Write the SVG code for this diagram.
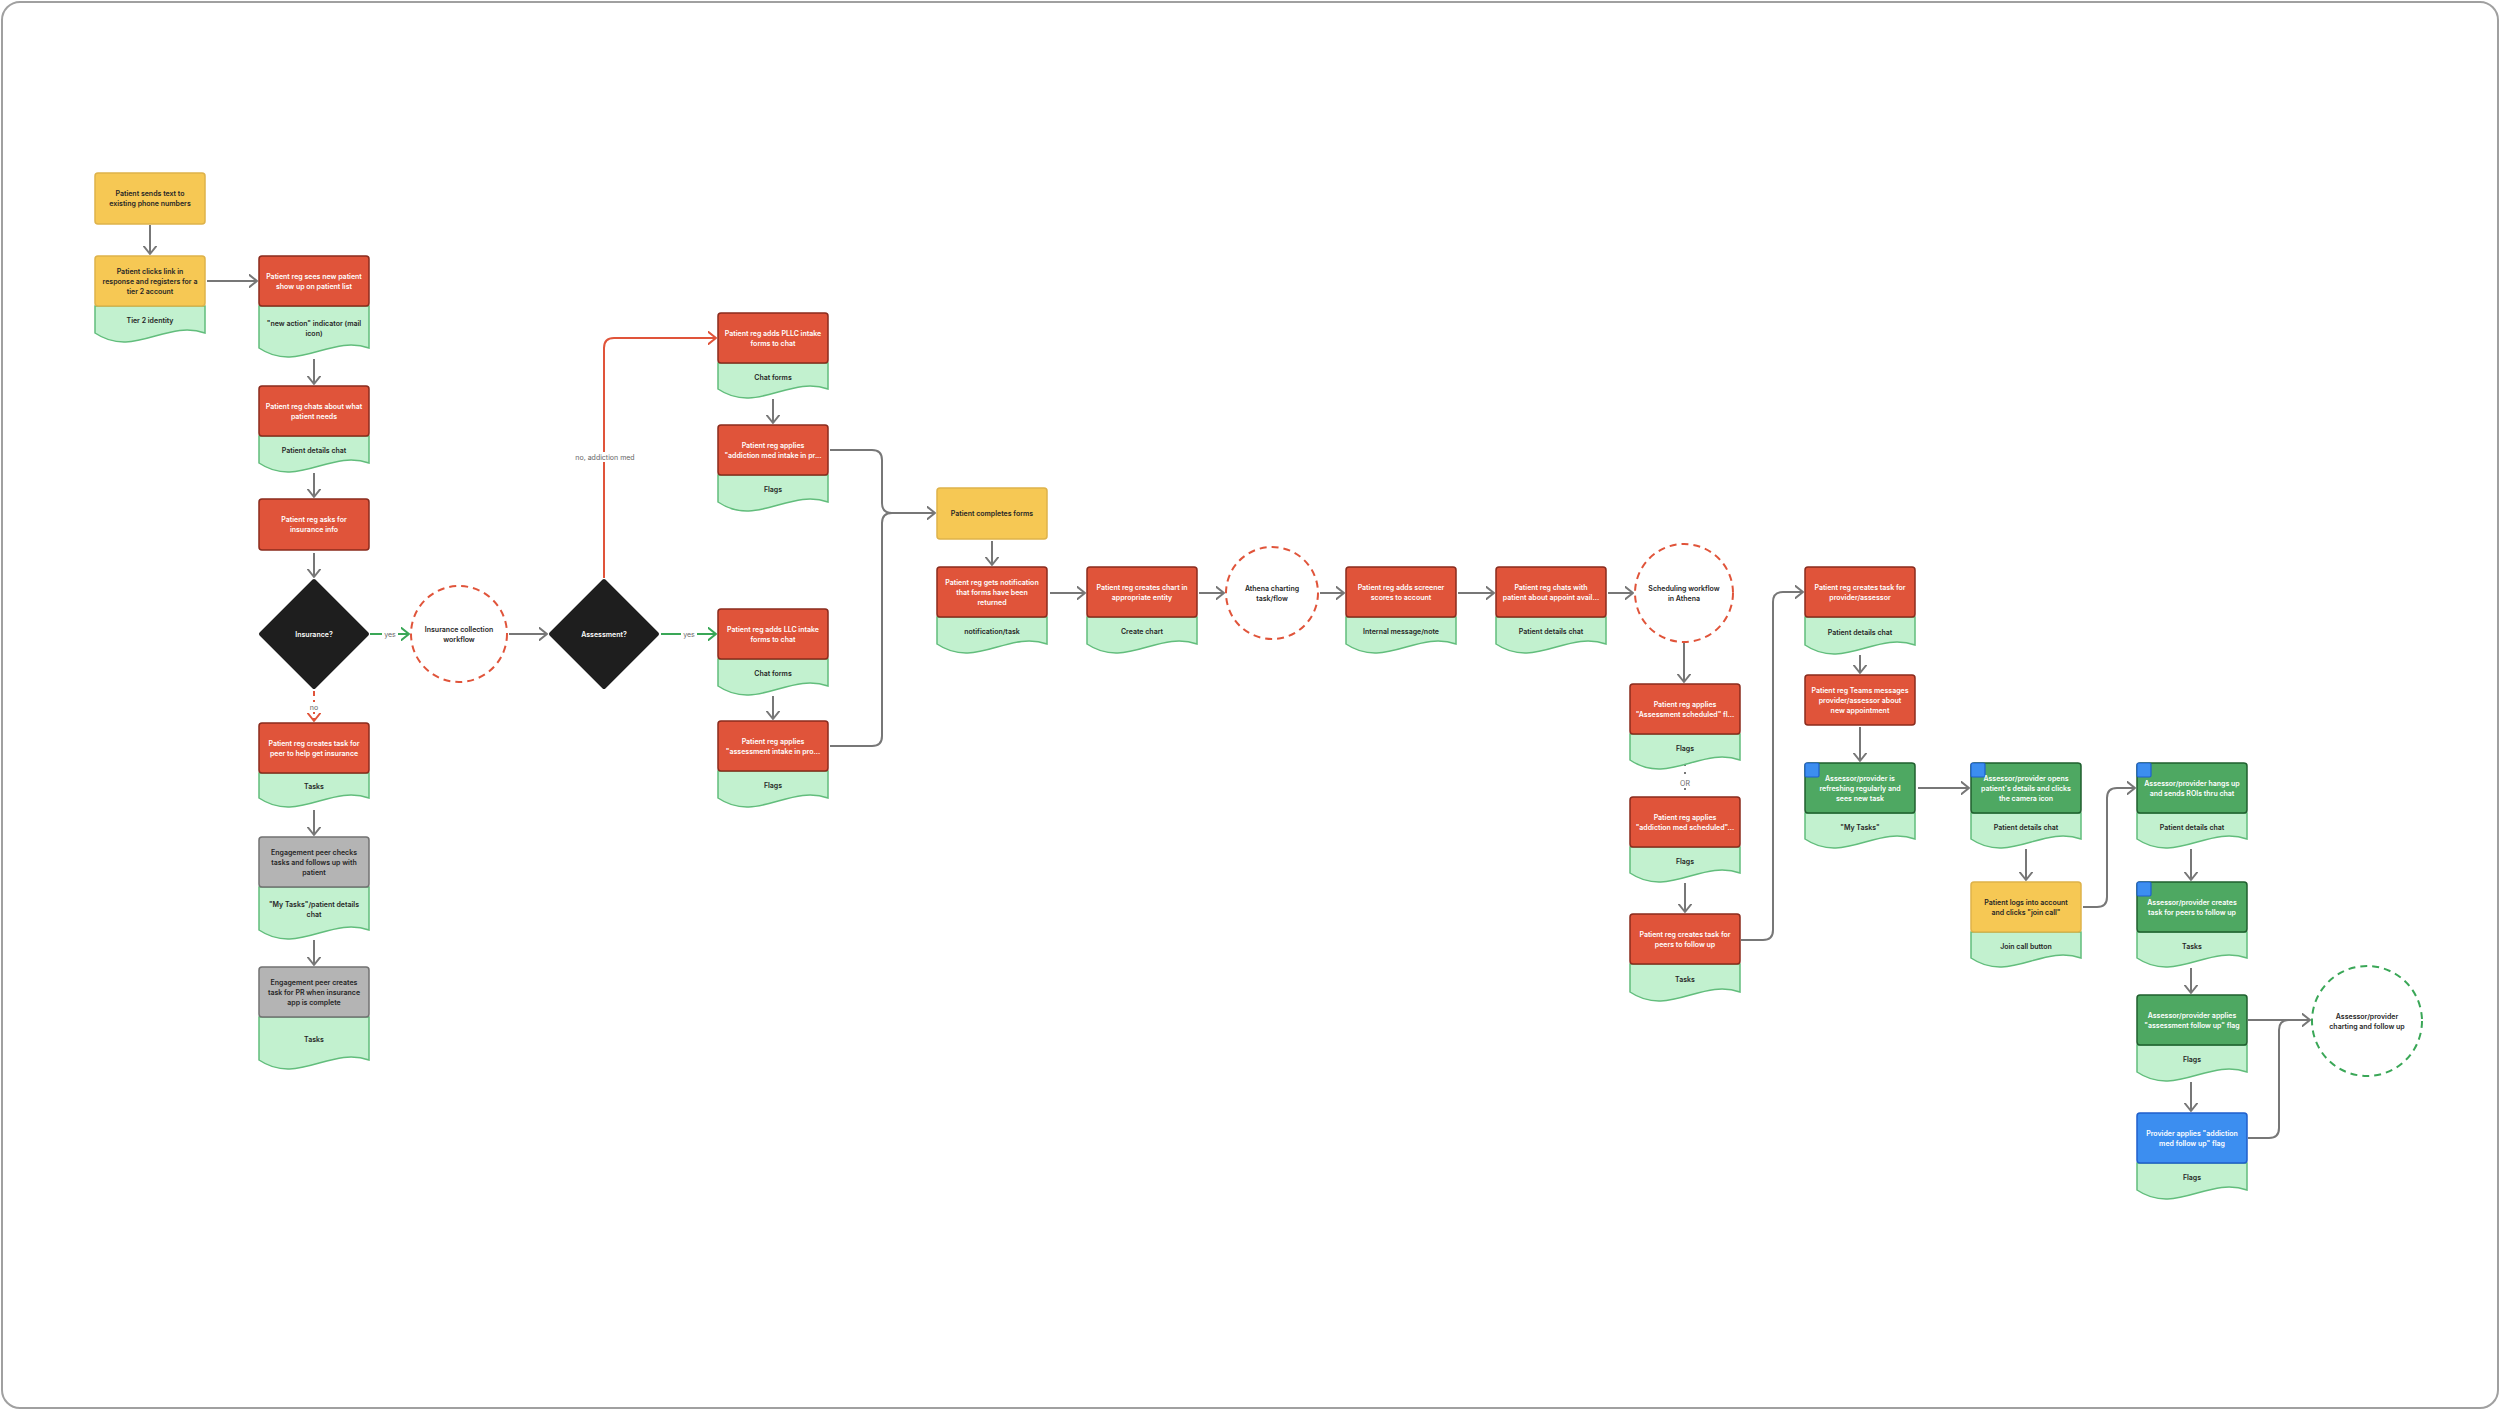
<svg xmlns="http://www.w3.org/2000/svg" width="2500" height="1410" viewBox="0 0 2500 1410">
<defs>
<style>
.red{fill:#e0543a;stroke:#8a2b1d;stroke-width:1.5}
.doc{fill:#c2f1cf;stroke:#62bd7c;stroke-width:1.5}
.yel{fill:#f6c854;stroke:#deb24a;stroke-width:1.5}
.gray{fill:#b4b4b4;stroke:#727272;stroke-width:1.5}
.grn{fill:#4ea862;stroke:#1f5f2e;stroke-width:1.5}
.blu{fill:#3c8ef0;stroke:#1f5fcb;stroke-width:1.5}
.sq{fill:#3c8ef0;stroke:#1f5fcb;stroke-width:1.2}
.dia{fill:#1e1e1e;stroke:#1e1e1e;stroke-width:4;stroke-linejoin:round}
.cr{fill:#fff;stroke:#e0543a;stroke-width:2;stroke-dasharray:7 5}
.cg{fill:#fff;stroke:#3aa757;stroke-width:2;stroke-dasharray:7 5}
text{font-family:Inter,"Liberation Sans",sans-serif;font-size:7px;font-weight:600;text-anchor:middle}
.tw{fill:#ffffff}
.td{fill:#262626}
.lbl{fill:#666666;font-weight:400}
.c{fill:none;stroke:#777777;stroke-width:2}
.cgn{fill:none;stroke:#3aa757;stroke-width:2}
.crd{fill:none;stroke:#e0543a;stroke-width:2}
</style>
<marker id="ag" viewBox="0 0 10 14" refX="8.5" refY="7" markerWidth="10" markerHeight="14" markerUnits="userSpaceOnUse" orient="auto"><path d="M1,1 L8.5,7 L1,13" fill="none" stroke="#777777" stroke-width="2" stroke-linecap="round" stroke-linejoin="round"/></marker>
<marker id="agn" viewBox="0 0 10 14" refX="8.5" refY="7" markerWidth="10" markerHeight="14" markerUnits="userSpaceOnUse" orient="auto"><path d="M1,1 L8.5,7 L1,13" fill="none" stroke="#3aa757" stroke-width="2" stroke-linecap="round" stroke-linejoin="round"/></marker>
<marker id="ard" viewBox="0 0 10 14" refX="8.5" refY="7" markerWidth="10" markerHeight="14" markerUnits="userSpaceOnUse" orient="auto"><path d="M1,1 L8.5,7 L1,13" fill="none" stroke="#e0543a" stroke-width="2" stroke-linecap="round" stroke-linejoin="round"/></marker>
</defs>
<rect x="2" y="2" width="2496" height="1406" rx="18" fill="#ffffff" stroke="#a0a0a0" stroke-width="2"/>

<g id="connectors">
<path class="c" d="M150,225 V254" marker-end="url(#ag)"/>
<path class="c" d="M207,281 H257" marker-end="url(#ag)"/>
<path class="c" d="M314,359 V384" marker-end="url(#ag)"/>
<path class="c" d="M314,473 V497" marker-end="url(#ag)"/>
<path class="c" d="M314,553 V577" marker-end="url(#ag)"/>
<path class="cgn" d="M370,634 H409" marker-end="url(#agn)"/>
<rect x="382" y="629" width="16" height="10" fill="#fff"/>
<text class="lbl" x="390" y="636.5">yes</text>
<path class="crd" d="M314,691 V721" stroke-dasharray="5 4" marker-end="url(#ard)"/>
<rect x="307" y="702" width="14" height="10" fill="#fff"/>
<text class="lbl" x="314" y="709.5">no</text>
<path class="c" d="M509,634 H547" marker-end="url(#ag)"/>
<path class="crd" d="M604,578 V348 Q604,338 614,338 H716" marker-end="url(#ard)"/>
<rect x="574" y="452" width="62" height="10" fill="#fff"/>
<text class="lbl" x="605" y="459.5">no, addiction med</text>
<path class="cgn" d="M661,634 H716" marker-end="url(#agn)"/>
<rect x="681" y="629" width="16" height="10" fill="#fff"/>
<text class="lbl" x="689" y="636.5">yes</text>
<path class="c" d="M773,399 V423" marker-end="url(#ag)"/>
<path class="c" d="M773,696 V719" marker-end="url(#ag)"/>
<path class="c" d="M314,810 V835" marker-end="url(#ag)"/>
<path class="c" d="M314,940 V965" marker-end="url(#ag)"/>
<path class="c" d="M830,450 H872 Q882,450 882,460 V503 Q882,513 892,513 H935" marker-end="url(#ag)"/>
<path class="c" d="M830,746 H872 Q882,746 882,736 V523 Q882,513 892,513"/>
<path class="c" d="M992,541 V565" marker-end="url(#ag)"/>
<path class="c" d="M1050,593 H1085" marker-end="url(#ag)"/>
<path class="c" d="M1199,593 H1224" marker-end="url(#ag)"/>
<path class="c" d="M1320,593 H1344" marker-end="url(#ag)"/>
<path class="c" d="M1458,593 H1494" marker-end="url(#ag)"/>
<path class="c" d="M1608,593 H1633" marker-end="url(#ag)"/>
<path class="c" d="M1684,643 V682" marker-end="url(#ag)"/>
<path class="c" d="M1685,764 V796" stroke-dasharray="2 6" stroke-linecap="butt"/>
<rect x="1677" y="777" width="16" height="11" fill="#fff"/>
<text class="lbl" x="1685" y="785.5">OR</text>
<path class="c" d="M1685,883 V912" marker-end="url(#ag)"/>
<path class="c" d="M1741,940 H1763 Q1773,940 1773,930 V602 Q1773,592 1783,592 H1803" marker-end="url(#ag)"/>
<path class="c" d="M1860,655 V673" marker-end="url(#ag)"/>
<path class="c" d="M1860,727 V761" marker-end="url(#ag)"/>
<path class="c" d="M1918,788 H1969" marker-end="url(#ag)"/>
<path class="c" d="M2026,849 V880" marker-end="url(#ag)"/>
<path class="c" d="M2083,907 H2097 Q2107,907 2107,897 V798 Q2107,788 2117,788 H2135" marker-end="url(#ag)"/>
<path class="c" d="M2191,849 V880" marker-end="url(#ag)"/>
<path class="c" d="M2191,968 V993" marker-end="url(#ag)"/>
<path class="c" d="M2191,1082 V1111" marker-end="url(#ag)"/>
<path class="c" d="M2248,1020 H2310" marker-end="url(#ag)"/>
<path class="c" d="M2248,1138 H2269 Q2279,1138 2279,1128 V1030 Q2279,1020 2289,1020"/>
</g>

<g id="n-sends">
<rect class="yel" x="95" y="173" width="110" height="51" rx="3"/>
<text class="td" x="150" y="196">Patient sends text to</text>
<text class="td" x="150" y="206">existing phone numbers</text>
</g>
<g id="n-clicks">
<path class="doc" d="M95,306 H205 V333 C166.5,319 133.5,359 95,333 Z"/>
<rect class="yel" x="95" y="256" width="110" height="50" rx="3"/>
<text class="td" x="150" y="273.5">Patient clicks link in</text>
<text class="td" x="150" y="283.5">response and registers for a</text>
<text class="td" x="150" y="293.5">tier 2 account</text>
<text class="td" x="150" y="323">Tier 2 identity</text>
</g>
<g id="n-sees">
<path class="doc" d="M259,306 H369 V348 C330.5,334 297.5,374 259,348 Z"/>
<rect class="red" x="259" y="256" width="110" height="50" rx="3"/>
<text class="tw" x="314" y="278.5">Patient reg sees new patient</text>
<text class="tw" x="314" y="288.5">show up on patient list</text>
<text class="td" x="314" y="325.5">"new action" indicator (mail</text>
<text class="td" x="314" y="335.5">icon)</text>
</g>
<g id="n-chats">
<path class="doc" d="M259,436 H369 V463 C330.5,449 297.5,489 259,463 Z"/>
<rect class="red" x="259" y="386" width="110" height="50" rx="3"/>
<text class="tw" x="314" y="408.5">Patient reg chats about what</text>
<text class="tw" x="314" y="418.5">patient needs</text>
<text class="td" x="314" y="453">Patient details chat</text>
</g>
<g id="n-asks">
<rect class="red" x="259" y="499" width="110" height="51" rx="3"/>
<text class="tw" x="314" y="522">Patient reg asks for</text>
<text class="tw" x="314" y="532">insurance info</text>
</g>
<g id="d-insurance">
<path class="dia" d="M314,581 L367,634 L314,687 L261,634 Z"/>
<text class="tw" x="314" y="636.5">Insurance?</text>
</g>
<g id="c-insurance">
<circle class="cr" cx="459" cy="634" r="48"/>
<text class="td" x="459" y="631.5">Insurance collection</text>
<text class="td" x="459" y="641.5">workflow</text>
</g>
<g id="d-assessment">
<path class="dia" d="M604,581 L657,634 L604,687 L551,634 Z"/>
<text class="tw" x="604" y="636.5">Assessment?</text>
</g>
<g id="n-peer-task">
<path class="doc" d="M259,773 H369 V798 C330.5,784 297.5,824 259,798 Z"/>
<rect class="red" x="259" y="723" width="110" height="50" rx="3"/>
<text class="tw" x="314" y="745.5">Patient reg creates task for</text>
<text class="tw" x="314" y="755.5">peer to help get insurance</text>
<text class="td" x="314" y="789">Tasks</text>
</g>
<g id="n-eng-checks">
<path class="doc" d="M259,887 H369 V930 C330.5,916 297.5,956 259,930 Z"/>
<rect class="gray" x="259" y="837" width="110" height="50" rx="3"/>
<text class="td" x="314" y="854.5">Engagement peer checks</text>
<text class="td" x="314" y="864.5">tasks and follows up with</text>
<text class="td" x="314" y="874.5">patient</text>
<text class="td" x="314" y="907">"My Tasks"/patient details</text>
<text class="td" x="314" y="917">chat</text>
</g>
<g id="n-eng-creates">
<path class="doc" d="M259,1017 H369 V1060 C330.5,1046 297.5,1086 259,1060 Z"/>
<rect class="gray" x="259" y="967" width="110" height="50" rx="3"/>
<text class="td" x="314" y="984.5">Engagement peer creates</text>
<text class="td" x="314" y="994.5">task for PR when insurance</text>
<text class="td" x="314" y="1004.5">app is complete</text>
<text class="td" x="314" y="1042">Tasks</text>
</g>
<g id="n-pllc">
<path class="doc" d="M718,363 H828 V389 C789.5,375 756.5,415 718,389 Z"/>
<rect class="red" x="718" y="313" width="110" height="50" rx="3"/>
<text class="tw" x="773" y="335.5">Patient reg adds PLLC intake</text>
<text class="tw" x="773" y="345.5">forms to chat</text>
<text class="td" x="773" y="379.5">Chat forms</text>
</g>
<g id="n-addmed-intake">
<path class="doc" d="M718,475 H828 V502 C789.5,488 756.5,528 718,502 Z"/>
<rect class="red" x="718" y="425" width="110" height="50" rx="3"/>
<text class="tw" x="773" y="447.5">Patient reg applies</text>
<text class="tw" x="773" y="457.5">"addiction med  intake in pr...</text>
<text class="td" x="773" y="492">Flags</text>
</g>
<g id="n-llc">
<path class="doc" d="M718,659 H828 V686 C789.5,672 756.5,712 718,686 Z"/>
<rect class="red" x="718" y="609" width="110" height="50" rx="3"/>
<text class="tw" x="773" y="631.5">Patient reg adds LLC intake</text>
<text class="tw" x="773" y="641.5">forms to chat</text>
<text class="td" x="773" y="676">Chat forms</text>
</g>
<g id="n-assess-intake">
<path class="doc" d="M718,771 H828 V798 C789.5,784 756.5,824 718,798 Z"/>
<rect class="red" x="718" y="721" width="110" height="50" rx="3"/>
<text class="tw" x="773" y="743.5">Patient reg applies</text>
<text class="tw" x="773" y="753.5">"assessment intake in pro...</text>
<text class="td" x="773" y="788">Flags</text>
</g>
<g id="n-completes">
<rect class="yel" x="937" y="488" width="110" height="51" rx="3"/>
<text class="td" x="992" y="516">Patient completes forms</text>
</g>
<g id="n-notification">
<path class="doc" d="M937,617 H1047 V644 C1008.5,630 975.5,670 937,644 Z"/>
<rect class="red" x="937" y="567" width="110" height="50" rx="3"/>
<text class="tw" x="992" y="584.5">Patient reg gets notification</text>
<text class="tw" x="992" y="594.5">that forms have been</text>
<text class="tw" x="992" y="604.5">returned</text>
<text class="td" x="992" y="634">notification/task</text>
</g>
<g id="n-chart">
<path class="doc" d="M1087,617 H1197 V644 C1158.5,630 1125.5,670 1087,644 Z"/>
<rect class="red" x="1087" y="567" width="110" height="50" rx="3"/>
<text class="tw" x="1142" y="589.5">Patient reg creates chart in</text>
<text class="tw" x="1142" y="599.5">appropriate entity</text>
<text class="td" x="1142" y="634">Create chart</text>
</g>
<g id="c-athena">
<circle class="cr" cx="1272" cy="593" r="46"/>
<text class="td" x="1272" y="590.5">Athena charting</text>
<text class="td" x="1272" y="600.5">task/flow</text>
</g>
<g id="n-screener">
<path class="doc" d="M1346,617 H1456 V644 C1417.5,630 1384.5,670 1346,644 Z"/>
<rect class="red" x="1346" y="567" width="110" height="50" rx="3"/>
<text class="tw" x="1401" y="589.5">Patient reg adds screener</text>
<text class="tw" x="1401" y="599.5">scores to account</text>
<text class="td" x="1401" y="634">Internal message/note</text>
</g>
<g id="n-appoint">
<path class="doc" d="M1496,617 H1606 V644 C1567.5,630 1534.5,670 1496,644 Z"/>
<rect class="red" x="1496" y="567" width="110" height="50" rx="3"/>
<text class="tw" x="1551" y="589.5">Patient reg chats with</text>
<text class="tw" x="1551" y="599.5">patient about appoint avail...</text>
<text class="td" x="1551" y="634">Patient details chat</text>
</g>
<g id="c-scheduling">
<circle class="cr" cx="1684" cy="593" r="49"/>
<text class="td" x="1684" y="590.5">Scheduling workflow</text>
<text class="td" x="1684" y="600.5">in Athena</text>
</g>
<g id="n-assess-scheduled">
<path class="doc" d="M1630,734 H1740 V760 C1701.5,746 1668.5,786 1630,760 Z"/>
<rect class="red" x="1630" y="684" width="110" height="50" rx="3"/>
<text class="tw" x="1685" y="706.5">Patient reg applies</text>
<text class="tw" x="1685" y="716.5">"Assessment scheduled" fl...</text>
<text class="td" x="1685" y="750.5">Flags</text>
</g>
<g id="n-addmed-scheduled">
<path class="doc" d="M1630,847 H1740 V873 C1701.5,859 1668.5,899 1630,873 Z"/>
<rect class="red" x="1630" y="797" width="110" height="50" rx="3"/>
<text class="tw" x="1685" y="819.5">Patient reg applies</text>
<text class="tw" x="1685" y="829.5">"addiction med scheduled"...</text>
<text class="td" x="1685" y="863.5">Flags</text>
</g>
<g id="n-peers-follow">
<path class="doc" d="M1630,964 H1740 V992 C1701.5,978 1668.5,1018 1630,992 Z"/>
<rect class="red" x="1630" y="914" width="110" height="50" rx="3"/>
<text class="tw" x="1685" y="936.5">Patient reg creates task for</text>
<text class="tw" x="1685" y="946.5">peers to follow up</text>
<text class="td" x="1685" y="981.5">Tasks</text>
</g>
<g id="n-provider-task">
<path class="doc" d="M1805,617 H1915 V645 C1876.5,631 1843.5,671 1805,645 Z"/>
<rect class="red" x="1805" y="567" width="110" height="50" rx="3"/>
<text class="tw" x="1860" y="589.5">Patient reg creates task for</text>
<text class="tw" x="1860" y="599.5">provider/assessor</text>
<text class="td" x="1860" y="634.5">Patient details chat</text>
</g>
<g id="n-teams">
<rect class="red" x="1805" y="675" width="110" height="50" rx="3"/>
<text class="tw" x="1860" y="692.5">Patient reg Teams messages</text>
<text class="tw" x="1860" y="702.5">provider/assessor about</text>
<text class="tw" x="1860" y="712.5">new appointment</text>
</g>
<g id="n-refreshing">
<path class="doc" d="M1805,813 H1915 V839 C1876.5,825 1843.5,865 1805,839 Z"/>
<rect class="grn" x="1805" y="763" width="110" height="50" rx="3"/>
<rect class="sq" x="1805" y="763" width="14" height="14" rx="1.5"/>
<text class="tw" x="1860" y="780.5">Assessor/provider is</text>
<text class="tw" x="1860" y="790.5">refreshing regularly and</text>
<text class="tw" x="1860" y="800.5">sees new task</text>
<text class="td" x="1860" y="829.5">"My Tasks"</text>
</g>
<g id="n-opens">
<path class="doc" d="M1971,813 H2081 V839 C2042.5,825 2009.5,865 1971,839 Z"/>
<rect class="grn" x="1971" y="763" width="110" height="50" rx="3"/>
<rect class="sq" x="1971" y="763" width="14" height="14" rx="1.5"/>
<text class="tw" x="2026" y="780.5">Assessor/provider opens</text>
<text class="tw" x="2026" y="790.5">patient's details and clicks</text>
<text class="tw" x="2026" y="800.5">the camera icon</text>
<text class="td" x="2026" y="829.5">Patient details chat</text>
</g>
<g id="n-logs">
<path class="doc" d="M1971,932 H2081 V958 C2042.5,944 2009.5,984 1971,958 Z"/>
<rect class="yel" x="1971" y="882" width="110" height="50" rx="3"/>
<text class="td" x="2026" y="904.5">Patient logs into account</text>
<text class="td" x="2026" y="914.5">and clicks "join call"</text>
<text class="td" x="2026" y="948.5">Join call button</text>
</g>
<g id="n-hangs">
<path class="doc" d="M2137,813 H2247 V839 C2208.5,825 2175.5,865 2137,839 Z"/>
<rect class="grn" x="2137" y="763" width="110" height="50" rx="3"/>
<rect class="sq" x="2137" y="763" width="14" height="14" rx="1.5"/>
<text class="tw" x="2192" y="785.5">Assessor/provider hangs up</text>
<text class="tw" x="2192" y="795.5">and sends ROIs thru chat</text>
<text class="td" x="2192" y="829.5">Patient details chat</text>
</g>
<g id="n-ap-creates">
<path class="doc" d="M2137,932 H2247 V958 C2208.5,944 2175.5,984 2137,958 Z"/>
<rect class="grn" x="2137" y="882" width="110" height="50" rx="3"/>
<rect class="sq" x="2137" y="882" width="14" height="14" rx="1.5"/>
<text class="tw" x="2192" y="904.5">Assessor/provider creates</text>
<text class="tw" x="2192" y="914.5">task for peers to follow up</text>
<text class="td" x="2192" y="948.5">Tasks</text>
</g>
<g id="n-ap-applies">
<path class="doc" d="M2137,1045 H2247 V1072 C2208.5,1058 2175.5,1098 2137,1072 Z"/>
<rect class="grn" x="2137" y="995" width="110" height="50" rx="3"/>
<text class="tw" x="2192" y="1017.5">Assessor/provider applies</text>
<text class="tw" x="2192" y="1027.5">"assessment follow up" flag</text>
<text class="td" x="2192" y="1062">Flags</text>
</g>
<g id="n-provider-applies">
<path class="doc" d="M2137,1163 H2247 V1190 C2208.5,1176 2175.5,1216 2137,1190 Z"/>
<rect class="blu" x="2137" y="1113" width="110" height="50" rx="3"/>
<text class="tw" x="2192" y="1135.5">Provider applies "addiction</text>
<text class="tw" x="2192" y="1145.5">med follow up" flag</text>
<text class="td" x="2192" y="1180">Flags</text>
</g>
<g id="c-charting">
<circle class="cg" cx="2367" cy="1021" r="55"/>
<text class="td" x="2367" y="1018.5">Assessor/provider</text>
<text class="td" x="2367" y="1028.5">charting and follow up</text>
</g>
</svg>
